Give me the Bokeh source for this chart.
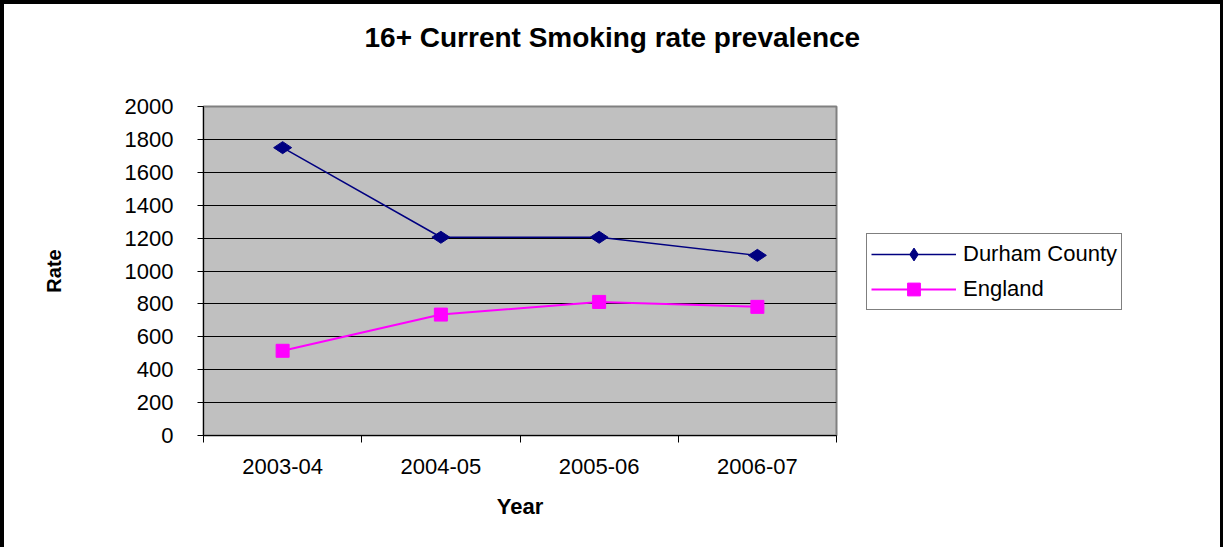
import math
from bokeh.plotting import figure
from bokeh.layouts import row
from bokeh.models import Range1d, FixedTicker, Legend, LegendItem, Title
from bokeh.embed import file_html
from bokeh.resources import INLINE

categories = ["2003-04", "2004-05", "2005-06", "2006-07"]
durham = [1750, 1205, 1205, 1095]
england = [515, 735, 812, 782]
y_ticks = list(range(0, 2001, 200))
series_names = ["Durham County", "England"]
title_text = "16+ Current Smoking rate prevalence"

FONT = "Liberation Sans"
NAVY = "#000080"
MAGENTA = "#FF00FF"
x = [i + 0.5 for i in range(len(categories))]

# ---------------- main chart ----------------
p = figure(width=864, height=547, output_backend="svg", toolbar_location=None,
           x_range=Range1d(0, len(categories)), y_range=Range1d(0, 2000),
           min_border_left=203, min_border_right=28, min_border_top=106, min_border_bottom=112,
           background_fill_color="#C0C0C0", border_fill_color=None)

p.outline_line_color = "#808080"
p.outline_line_width = 2

p.xgrid.visible = False
p.ygrid.ticker = FixedTicker(ticks=y_ticks)
p.ygrid.grid_line_color = "black"
p.ygrid.grid_line_width = 1

p.yaxis.ticker = FixedTicker(ticks=y_ticks)
p.yaxis.major_tick_in = 0
p.yaxis.major_tick_out = 6
p.yaxis.minor_tick_line_color = None
p.yaxis.axis_line_color = "black"
p.yaxis.major_tick_line_color = "black"
p.yaxis.major_label_text_font = FONT
p.yaxis.major_label_text_font_size = "22px"
p.yaxis.major_label_text_color = "black"
p.yaxis.major_label_standoff = 24
p.yaxis.axis_label = "Rate"
p.yaxis.axis_label_text_font = FONT
p.yaxis.axis_label_text_font_style = "bold"
p.yaxis.axis_label_text_font_size = "20px"
p.yaxis.axis_label_text_color = "black"
p.yaxis.axis_label_standoff = 57

p.xaxis.ticker = FixedTicker(ticks=x, minor_ticks=list(range(len(categories) + 1)))
p.xaxis.major_label_overrides = {xi: c for xi, c in zip(x, categories)}
p.xaxis.major_tick_in = 0
p.xaxis.major_tick_out = 0
p.xaxis.minor_tick_in = 0
p.xaxis.minor_tick_out = 7
p.xaxis.minor_tick_line_color = "black"
p.xaxis.axis_line_color = "black"
p.xaxis.major_label_text_font = FONT
p.xaxis.major_label_text_font_size = "22px"
p.xaxis.major_label_text_color = "black"
p.xaxis.major_label_standoff = 16
p.xaxis.axis_label = "Year"
p.xaxis.axis_label_text_font = FONT
p.xaxis.axis_label_text_font_style = "bold"
p.xaxis.axis_label_text_font_size = "22px"
p.xaxis.axis_label_text_color = "black"
p.xaxis.axis_label_standoff = 17

p.line(x, durham, line_color=NAVY, line_width=1.5)
p.scatter(x, durham, marker="diamond", size=18, angle=math.pi / 2,
          fill_color=NAVY, line_color=NAVY)
p.line(x, england, line_color=MAGENTA, line_width=2)
p.scatter(x, england, marker="square", size=13, fill_color=MAGENTA, line_color=MAGENTA)

# spacer nearest the frame, then the chart title above it
p.add_layout(Title(text=" ", text_font_size="10px", standoff=41), "above")
p.add_layout(Title(text=title_text, align="left", offset=161, standoff=0,
                   vertical_align="bottom", text_font=FONT, text_font_style="bold",
                   text_font_size="28px", text_color="black"), "above")

# ---------------- legend panel ----------------
q = figure(width=359, height=547, output_backend="svg", toolbar_location=None,
           x_range=Range1d(0, 1), y_range=Range1d(-2, -1),
           x_axis_location=None, y_axis_location=None,
           min_border=0, min_border_left=0, min_border_right=0,
           min_border_top=0, min_border_bottom=0,
           background_fill_color=None, border_fill_color=None, outline_line_color=None)
q.grid.visible = False

# legend proxies (same series, outside this panel's visible range)
k1 = q.line(x, durham, line_color=NAVY, line_width=1.5)
s1 = q.scatter(x, durham, marker="diamond", size=18, angle=math.pi / 2,
               fill_color=NAVY, line_color=NAVY)
k2 = q.line(x, england, line_color=MAGENTA, line_width=2)
s2 = q.scatter(x, england, marker="square", size=13, fill_color=MAGENTA, line_color=MAGENTA)

legend = Legend(items=[LegendItem(label=series_names[0], renderers=[k1, s1]),
                       LegendItem(label=series_names[1], renderers=[k2, s2])],
                location=(2, 125), glyph_width=85, glyph_height=32,
                label_height=32, label_standoff=7, spacing=3, padding=4,
                margin=0, border_line_color="black", border_line_width=1,
                background_fill_color="white", background_fill_alpha=1,
                label_text_font=FONT, label_text_font_size="22px",
                label_text_color="black")
q.add_layout(legend)

layout = row(p, q, spacing=0,
             styles={"background-color": "white",
                     "box-shadow": "inset 4px 4px 0 0 black, inset -3px 0 0 0 black"})

open("out.html", "w").write(file_html(layout, INLINE))
